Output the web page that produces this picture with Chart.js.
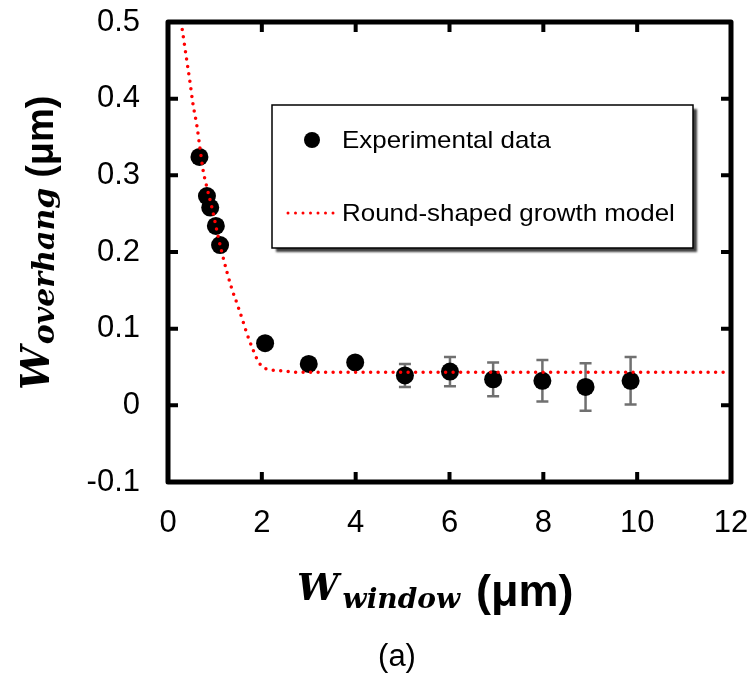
<!DOCTYPE html>
<html>
<head>
<meta charset="utf-8">
<script src="https://cdn.jsdelivr.net/npm/chart.js@4.4.1/dist/chart.umd.min.js"></script>
<style>
  body { margin: 0; background: #fff; }
  canvas { display: block; }
</style>
</head>
<body>
<canvas id="overhangChart" width="754" height="677"></canvas>
<script>
// measured overhang width vs window width
const expX = [0.67, 0.83, 0.90, 1.02, 1.11, 2.07, 3.00, 3.99, 5.05, 6.01, 6.93, 7.98, 8.90, 9.86];
const expY = [0.324, 0.273, 0.258, 0.234, 0.209, 0.081, 0.054, 0.056, 0.039, 0.044, 0.034, 0.032, 0.024, 0.032];
const expErr = [0, 0, 0, 0, 0, 0, 0, 0, 0.015, 0.019, 0.022, 0.027, 0.031, 0.031];

// round-shaped growth model curve
const modelX = [0.28, 0.40, 0.47, 0.53, 0.62, 0.68, 0.75, 0.83, 0.94, 1.07, 1.15, 1.26, 1.36, 1.47, 1.58, 1.68, 1.79, 1.90, 2.00, 2.13, 2.45, 2.77, 12];
const modelY = [0.500, 0.450, 0.421, 0.394, 0.363, 0.336, 0.306, 0.284, 0.257, 0.220, 0.199, 0.173, 0.152, 0.133, 0.113, 0.094, 0.076, 0.060, 0.051, 0.047, 0.045, 0.043, 0.043];

const xTicks = [0, 2, 4, 6, 8, 10, 12];
const yTicks = [-0.1, 0, 0.1, 0.2, 0.3, 0.4, 0.5];

const seriesNames = ['Experimental data', 'Round-shaped growth model'];

const SANS = '"Liberation Sans", Arial, sans-serif';
const MATH = '"DejaVu Serif", serif';

// error bars under the markers
const errorBars = {
    id: 'errorBars',
    beforeDatasetsDraw(chart) {
        const ctx = chart.ctx;
        const xs = chart.scales.x, ys = chart.scales.y;
        ctx.save();
        ctx.strokeStyle = '#707070';
        ctx.lineWidth = 2.5;
        expX.forEach((x, i) => {
            if (!expErr[i]) return;
            const px = xs.getPixelForValue(x);
            const top = ys.getPixelForValue(expY[i] + expErr[i]);
            const bot = ys.getPixelForValue(expY[i] - expErr[i]);
            ctx.beginPath();
            ctx.moveTo(px, top); ctx.lineTo(px, bot);
            ctx.moveTo(px - 6, top); ctx.lineTo(px + 6, top);
            ctx.moveTo(px - 6, bot); ctx.lineTo(px + 6, bot);
            ctx.stroke();
        });
        ctx.restore();
    }
};

// thick box with inward ticks on all four sides
const frame = {
    id: 'frame',
    afterDraw(chart) {
        const ctx = chart.ctx;
        const a = chart.chartArea;
        const xs = chart.scales.x, ys = chart.scales.y;
        ctx.save();
        ctx.strokeStyle = '#000';
        ctx.lineWidth = 4;
        ctx.beginPath();
        xTicks.forEach(v => {
            const p = xs.getPixelForValue(v);
            ctx.moveTo(p, a.bottom); ctx.lineTo(p, a.bottom - 10);
            ctx.moveTo(p, a.top); ctx.lineTo(p, a.top + 10);
        });
        yTicks.forEach(v => {
            const p = ys.getPixelForValue(v);
            ctx.moveTo(a.left, p); ctx.lineTo(a.left + 10, p);
            ctx.moveTo(a.right, p); ctx.lineTo(a.right - 10, p);
        });
        ctx.stroke();
        ctx.lineWidth = 5;
        ctx.lineJoin = 'round';
        ctx.strokeRect(a.left, a.top, a.right - a.left, a.bottom - a.top);
        ctx.restore();
    }
};

// legend box with drop shadow
const legendBox = {
    id: 'legendBox',
    afterDraw(chart) {
        const ctx = chart.ctx;
        const bx = 272, by = 105, bw = 421, bh = 143;
        ctx.save();
        ctx.fillStyle = '#fff';
        ctx.shadowColor = 'rgba(0,0,0,0.75)';
        ctx.shadowOffsetX = 4;
        ctx.shadowOffsetY = 4;
        ctx.shadowBlur = 2;
        ctx.fillRect(bx, by, bw, bh);
        ctx.shadowColor = 'transparent';
        ctx.strokeStyle = '#000';
        ctx.lineWidth = 1.5;
        ctx.strokeRect(bx, by, bw, bh);

        ctx.fillStyle = '#000';
        ctx.beginPath();
        ctx.arc(312, 140, 8, 0, Math.PI * 2);
        ctx.fill();

        ctx.strokeStyle = '#ff0000';
        ctx.lineWidth = 3;
        ctx.lineCap = 'round';
        ctx.setLineDash([0, 7.5]);
        ctx.beginPath();
        ctx.moveTo(288, 213); ctx.lineTo(336, 213);
        ctx.stroke();
        ctx.setLineDash([]);

        ctx.fillStyle = '#000';
        ctx.textBaseline = 'middle';
        ctx.font = '24px ' + SANS;
        drawStretched(ctx, seriesNames[0], 342, 141, 1.08);
        drawStretched(ctx, seriesNames[1], 342, 214, 1.08);
        ctx.restore();
    }
};

function drawStretched(ctx, text, x, y, sx) {
    ctx.save();
    ctx.translate(x, y);
    ctx.scale(sx, 1);
    ctx.fillText(text, 0, 0);
    ctx.restore();
}

// W with italic subscript followed by (μm), drawn from (0,0) on the baseline
function mathTitle(ctx, sub, s) {
    ctx.font = 'italic bold ' + s.w + 'px ' + MATH;
    ctx.fillText('W', 0, 0);
    let cx = ctx.measureText('W').width + s.gap;
    ctx.font = 'italic bold ' + s.sub + 'px ' + MATH;
    ctx.fillText(sub, cx, s.subDy);
    cx += ctx.measureText(sub).width + s.space;
    ctx.font = 'bold ' + s.unit + 'px ' + SANS;
    ctx.fillText('(μm)', cx, s.unitDy);
}

const axisTitles = {
    id: 'axisTitles',
    afterDraw(chart) {
        const ctx = chart.ctx;
        ctx.save();
        ctx.fillStyle = '#000';
        ctx.textBaseline = 'alphabetic';

        ctx.save();
        ctx.translate(297, 600);
        mathTitle(ctx, 'window', { w: 37, sub: 28, unit: 45, gap: 4, space: 16, subDy: 8, unitDy: 6 });
        ctx.restore();

        ctx.save();
        ctx.translate(49, 390);
        ctx.rotate(-Math.PI / 2);
        mathTitle(ctx, 'overhang', { w: 39, sub: 30, unit: 38, gap: 2, space: 10, subDy: 5, unitDy: 4 });
        ctx.restore();

        ctx.font = '31px ' + SANS;
        ctx.textAlign = 'center';
        ctx.textBaseline = 'middle';
        ctx.fillText('(a)', 397, 657);
        ctx.restore();
    }
};

const tickFont = { family: SANS, size: 31 };

// fixed axis band sizes, no extra room for label overhang
function fixX(s) {
    s.height = 195;
    s.paddingLeft = s.paddingRight = s.paddingTop = s.paddingBottom = 0;
}
function fixY(s) {
    s.width = 168;
    s.paddingLeft = s.paddingRight = s.paddingTop = s.paddingBottom = 0;
}

new Chart(document.getElementById('overhangChart'), {
    type: 'scatter',
    data: {
        datasets: [{
            type: 'line',
            label: seriesNames[1],
            data: modelX.map((x, i) => ({ x: x, y: modelY[i] })),
            borderColor: '#ff0000',
            borderWidth: 3.5,
            borderDash: [0, 7.5],
            borderCapStyle: 'round',
            cubicInterpolationMode: 'monotone',
            pointRadius: 0,
            fill: false,
            order: 0
        }, {
            label: seriesNames[0],
            data: expX.map((x, i) => ({ x: x, y: expY[i] })),
            backgroundColor: '#000',
            borderWidth: 0,
            pointRadius: 9,
            order: 1
        }]
    },
    options: {
        responsive: false,
        animation: false,
        layout: { padding: { left: 0, top: 22, right: 23, bottom: 0 } },
        plugins: {
            legend: { display: false },
            tooltip: { enabled: false }
        },
        scales: {
            x: {
                type: 'linear',
                min: 0,
                max: 12,
                afterFit: fixX,
                afterBuildTicks: s => { s.ticks = xTicks.map(v => ({ value: v })); },
                grid: { display: false, drawTicks: false },
                border: { display: false },
                ticks: { color: '#000', font: tickFont, padding: 23, maxRotation: 0 }
            },
            y: {
                type: 'linear',
                min: -0.1,
                max: 0.5,
                afterFit: fixY,
                afterBuildTicks: s => { s.ticks = yTicks.map(v => ({ value: v })); },
                grid: { display: false, drawTicks: false },
                border: { display: false },
                ticks: {
                    color: '#000',
                    font: tickFont,
                    padding: 28,
                    callback: v => String(Math.round(v * 10) / 10)
                }
            }
        }
    },
    plugins: [errorBars, frame, legendBox, axisTitles]
});
</script>
</body>
</html>
